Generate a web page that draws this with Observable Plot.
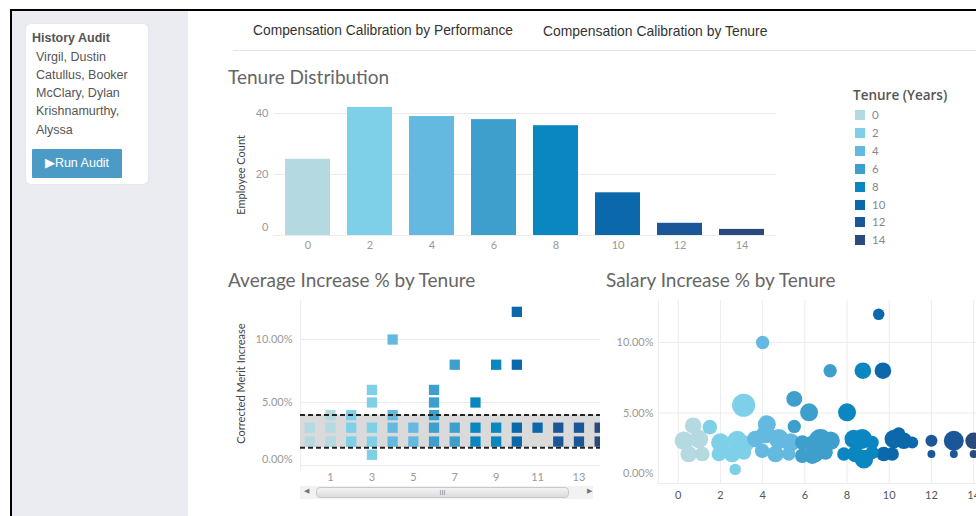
<!DOCTYPE html>
<html><head><meta charset="utf-8">
<script src="https://cdn.jsdelivr.net/npm/d3@7"></script>
<script src="https://cdn.jsdelivr.net/npm/@observablehq/plot@0.6"></script>
<style>
html,body{margin:0;padding:0;background:#fff;}
#page{position:relative;width:976px;height:516px;overflow:hidden;background:#fff;font-family:"Liberation Sans",Arial,sans-serif;}
.abs{position:absolute;}
#frame{left:10px;top:9px;width:1000px;height:540px;border-top:2px solid #000;border-left:2px solid #000;}
#side{left:12px;top:11px;width:176px;height:520px;background:#eaecf1;}
#card{left:26px;top:24px;width:122px;height:160px;background:#fff;border-radius:5px;box-shadow:0 0 2px rgba(0,0,0,0.08);}
.cardtitle{left:32px;top:31px;font-size:12.5px;font-weight:bold;color:#555;white-space:nowrap;}
.name{left:36px;font-size:12.5px;color:#555;line-height:14px;white-space:nowrap;}
#btn{left:32px;top:149px;width:90px;height:29px;background:#4b9bc6;color:#fff;font-size:12.5px;line-height:29px;text-align:center;border-radius:1px;}
.tab{top:23px;color:#333;white-space:nowrap;}
#tabline{left:233px;top:50px;width:760px;height:1px;background:#e4e4e4;}
.title{font-family:Lato,"Open Sans",sans-serif;font-size:19px;color:#666;white-space:nowrap;}
.legtitle{left:853px;top:86px;font-family:"Open Sans",sans-serif;font-size:13.5px;font-weight:600;color:#555;white-space:nowrap;}
.sw{width:10px;height:10px;}
.leglab{font-family:Lato,sans-serif;font-size:11.5px;color:#888;line-height:12px;}
#scroll{left:300px;top:486px;width:293px;height:13px;background:#f2f2f2;}
#thumb{left:316px;top:487px;width:253px;height:11px;background:linear-gradient(#f4f4f4,#dcdcdc);border:1px solid #c8c8c8;border-radius:4px;box-sizing:border-box;text-align:center;font-size:7px;line-height:9px;color:#888;}
.arrow{top:487px;font-size:7px;color:#777;}
</style></head>
<body>
<div id="page">
  <div id="frame" class="abs"></div>
  <div id="side" class="abs"></div>
  <div id="card" class="abs"></div>
  <div class="abs cardtitle">History Audit</div>
  <div class="abs name" style="top:50px">Virgil, Dustin</div>
  <div class="abs name" style="top:68px">Catullus, Booker</div>
  <div class="abs name" style="top:86px">McClary, Dylan</div>
  <div class="abs name" style="top:104px">Krishnamurthy,</div>
  <div class="abs name" style="top:123px">Alyssa</div>
  <div id="btn" class="abs">&#9654;Run Audit</div>
  <div class="abs tab" style="left:253px;font-size:13.8px">Compensation Calibration by Performance</div>
  <div class="abs tab" style="left:543px;font-size:13.9px">Compensation Calibration by Tenure</div>
  <div id="tabline" class="abs"></div>
  <div class="abs title" style="left:228px;top:65px">Tenure Distribution</div>
  <div class="abs title" style="left:228px;top:268px">Average Increase % by Tenure</div>
  <div class="abs title" style="left:606px;top:268px">Salary Increase % by Tenure</div>
  <div class="abs legtitle">Tenure (Years)</div>
  <div id="legend"></div>
  <div id="bars" class="abs" style="left:220px;top:95px;width:560px"></div>
  <div id="merit" class="abs" style="left:220px;top:290px;width:380px"></div>
  <div id="bubbles" class="abs" style="left:604px;top:290px;width:420px"></div>
  <div id="scroll" class="abs"></div>
  <div id="thumb" class="abs">III</div>
  <div class="abs arrow" style="left:304px">&#9664;</div>
  <div class="abs arrow" style="left:587px">&#9654;</div>
</div>
<script>
// ---------- data ----------
const tenureBins = [0, 2, 4, 6, 8, 10, 12, 14];
const employeeCounts = [25, 42, 39, 38, 36, 14, 4, 2];
const binColors = ["#b4d9e0", "#7dd0e8", "#63b9df", "#3e9fcc", "#0a86c0", "#0b69ab", "#1a5799", "#2b4a7c"];

// Average Increase % by Tenure (one square per distinct increase)
const meritTenure = [0,0, 1,1,1, 2,2,2, 3,3,3,3,3, 4,4,4,4, 5,5, 6,6,6,6,6, 7,7,7, 8,8,8, 9,9,9, 10,10,10,10, 11, 12,12, 13,13, 14,14];
const meritPct    = [3,1.9, 4,3,1.9, 4,3,1.9, 6,5,3,1.9,0.85, 10,4,3,1.9, 3,1.9, 6,5,4,3,1.9, 8,3,1.9, 5,3,1.9, 8,3,1.9, 12.2,8,3,1.9, 3, 3,1.9, 3,1.9, 3,1.9];
const meritTicks = [1, 3, 5, 7, 9, 11, 13];
const refBandPct = [1.4, 4.0];

// Salary Increase % by Tenure
const salTenure = [9.5,4.0,7.2,8.75,9.7,3.1,5.5,6.2,8.0,0.71,1.5,4.2,5.5,2.7,
  0.27,0.98,0.5,1.14,2.0,2.8,3.19,1.93,2.56,3.11,3.66,4.14,4.77,5.32,3.98,4.61,5.24,
  5.88,6.35,5.88,6.35,6.74,7.22,6.5,6.98,8.32,8.72,9.19,7.85,8.4,8.8,9.19,
  10.22,10.69,11.09,9.74,10.14,10.45,12.0,12.0,13.06,13.06,14.0,14.0];
const salPct = [12.0,10.0,8.0,8.0,8.0,5.55,6.0,5.05,5.05,4.1,4.0,4.2,4.05,1.0,
  3.03,3.16,2.09,2.09,2.91,3.03,2.8,2.09,2.09,2.2,3.16,3.51,3.16,2.91,2.32,2.09,2.09,
  2.91,2.8,1.97,1.97,3.03,3.03,2.09,2.2,3.16,3.16,2.91,2.09,2.09,1.73,2.2,
  3.16,3.03,2.91,2.09,2.09,3.51,3.03,2.09,3.03,2.09,3.03,2.09];
const salWeight = [23,31,31,48,48,92,44,56,56,48,37,56,31,23,
  60,60,48,37,60,69,48,37,48,37,48,60,69,60,37,48,31,
  37,48,37,48,95,60,48,37,60,69,31,31,48,60,31,
  60,48,25,37,31,31,25,11,69,11,48,11];
const salBin = [10,4,6,8,10,2,6,6,8,0,2,4,6,2,
  0,0,0,0,2,2,2,2,2,2,4,4,4,4,4,4,4,
  6,6,6,6,6,6,6,6,8,8,8,8,8,8,8,
  10,10,10,10,10,10,12,12,12,12,14,14];
const salXTicks = [0, 2, 4, 6, 8, 10, 12, 14];
const pctTicks = [0, 0.05, 0.10];

// ---------- shared ----------
const color = {type: "ordinal", domain: tenureBins, range: binColors};
const fmtPct = d3.format(".2%");
const baseStyle = {fontFamily: "Lato, 'Open Sans', sans-serif", fontSize: "11px", color: "#999", background: "transparent", overflow: "visible", maxWidth: "none"};
const grid = {stroke: "#ececec", strokeOpacity: 1};

// legend
const leg = document.getElementById("legend");
tenureBins.forEach((t, i) => {
  const cy = 115 + i * 17.9;
  const sw = document.createElement("div");
  sw.className = "abs sw"; sw.style.left = "855px"; sw.style.top = (cy - 5) + "px"; sw.style.background = binColors[i];
  const lb = document.createElement("div");
  lb.className = "abs leglab"; lb.style.left = "872px"; lb.style.top = (cy - 6) + "px"; lb.textContent = t;
  leg.appendChild(sw); leg.appendChild(lb);
});

// ---------- Tenure Distribution ----------
const bars = tenureBins.map((t, i) => ({tenure: t, count: employeeCounts[i]}));
document.getElementById("bars").append(Plot.plot({
  width: 560, height: 165, marginLeft: 54, marginRight: 4, marginTop: 2.75, marginBottom: 25,
  style: baseStyle,
  x: {type: "band", domain: tenureBins, range: [62, 548], paddingInner: 0.268, paddingOuter: 0, label: null},
  y: {domain: [0, 45], label: null},
  color,
  marks: [
    Plot.gridY([0, 20, 40], grid),
    Plot.barY(bars, {x: "tenure", y: "count", fill: "tenure"}),
    Plot.axisY([20, 40], {tickSize: 0, tickPadding: 6, label: null}),
    Plot.axisY([0], {tickSize: 0, tickPadding: 6, dy: -8, label: null}),
    Plot.axisX({tickSize: 0, tickPadding: 6, label: null}),
    Plot.text(["Employee Count"], {text: d => d, frameAnchor: "left", textAnchor: "middle", dx: -33, dy: 8, rotate: -90, fill: "#444", fontSize: 11})
  ]
}));

// ---------- Average Increase % by Tenure ----------
const meritX = [-0.45, 14.04];
const merit = meritTenure.map((t, i) => ({tenure: t, pct: meritPct[i] / 100, bin: Math.floor(t / 2) * 2}));
document.getElementById("merit").append(Plot.plot({
  width: 380, height: 200, marginLeft: 80, marginRight: 0, marginTop: 10, marginBottom: 20,
  style: baseStyle,
  x: {domain: meritX, label: null},
  y: {domain: [-0.004, 0.131], label: null},
  color,
  marks: [
    Plot.gridY(pctTicks, grid),
    Plot.ruleX([meritX[0]], grid),
    Plot.rect([{lo: refBandPct[0] / 100, hi: refBandPct[1] / 100}], {x1: meritX[0], x2: meritX[1], y1: "lo", y2: "hi", fill: "#dadada"}),
    Plot.dot(merit, {x: "tenure", y: "pct", fill: "bin", symbol: "square", r: 5.8, clip: true}),
    Plot.ruleY(refBandPct.map(d => d / 100), {stroke: "#222", strokeWidth: 2, strokeDasharray: "5,3"}),
    Plot.axisY([0.05, 0.10], {tickFormat: fmtPct, tickSize: 0, tickPadding: 8, label: null}),
    Plot.axisY([0], {tickFormat: fmtPct, tickSize: 0, tickPadding: 8, dy: -6, label: null}),
    Plot.axisX(meritTicks, {tickSize: 0, tickPadding: 3, label: null}),
    Plot.text(["Corrected Merit Increase"], {text: d => d, frameAnchor: "left", textAnchor: "middle", dx: -59, dy: -2, rotate: -90, fill: "#444", fontSize: 11})
  ]
}));

// ---------- Salary Increase % by Tenure ----------
const salX = [-0.934, 16.41];
const sal = salTenure.map((t, i) => ({tenure: t, pct: salPct[i] / 100, w: salWeight[i], bin: salBin[i]}));
document.getElementById("bubbles").append(Plot.plot({
  width: 420, height: 216, marginLeft: 54, marginRight: 0, marginTop: 10, marginBottom: 23,
  style: baseStyle,
  x: {domain: salX, label: null},
  y: {domain: [0, 0.1298], label: null},
  r: {type: "sqrt", domain: [0, 100], range: [0, 12]},
  color,
  marks: [
    Plot.gridX(salXTicks, grid),
    Plot.gridY(pctTicks, grid),
    Plot.ruleX([salX[0]], grid),
    Plot.dot(sal, {x: "tenure", y: "pct", r: "w", fill: "bin", stroke: null}),
    Plot.axisY([0.05, 0.10], {tickFormat: fmtPct, tickSize: 0, tickPadding: 5, label: null}),
    Plot.axisY([0], {tickFormat: fmtPct, tickSize: 0, tickPadding: 5, dy: -10, label: null}),
    Plot.axisX(salXTicks, {tickSize: 0, tickPadding: 8, label: null, fill: "#555"})
  ]
}));
</script>
</body></html>
